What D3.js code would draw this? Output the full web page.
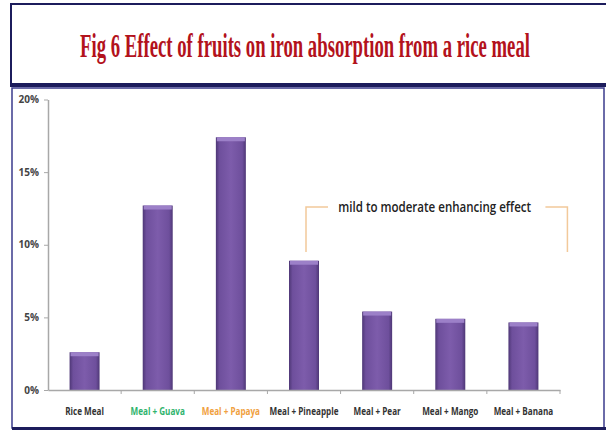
<!DOCTYPE html>
<html>
<head>
  <title>Fig 6</title>
  <script src="https://cdn.jsdelivr.net/npm/d3@7"></script>
  <style>
    body { margin: 0; background: #fff; }
    .tick text { font-family: "Open Sans", "Liberation Sans", sans-serif; }
  </style>
</head>
<body>
  <div id="chart-area"></div>
  <script>
    const categories = ["Rice Meal", "Meal + Guava", "Meal + Papaya", "Meal + Pineapple",
                        "Meal + Pear", "Meal + Mango", "Meal + Banana"];
    const absorption = [2.6, 12.7, 17.4, 8.9, 5.4, 4.9, 4.65];
    const labelColors = ["#333", "#2fb36d", "#f0a040", "#333", "#333", "#333", "#333"];
    const yTicks = [0, 5, 10, 15, 20];
    const title = "Fig 6 Effect of fruits on iron absorption from a rice meal";
    const note = "mild to moderate enhancing effect";

    const width = 606;
    const height = 434;
    const margin = {left: 48, right: 46, top: 100, bottom: 44};

    const svg = d3.select("#chart-area")
        .append("svg")
            .attr("width", width)
            .attr("height", height);

    // squeeze a text horizontally so it spans w pixels, centred at cx
    function squeeze(sel, cx, cy, w) {
        const n = sel.node().getComputedTextLength();
        const k = w / n;
        sel.attr("x", 0).attr("y", 0)
            .attr("transform", `translate(${cx},${cy}) scale(${k},1)`);
    }

    const defs = svg.append("defs");
    const grad = defs.append("linearGradient")
        .attr("id", "barGrad")
        .attr("x1", "0%").attr("x2", "100%");
    grad.append("stop").attr("offset", "0%").attr("stop-color", "#4e3776");
    grad.append("stop").attr("offset", "12%").attr("stop-color", "#6e4f9c");
    grad.append("stop").attr("offset", "50%").attr("stop-color", "#7d5cab");
    grad.append("stop").attr("offset", "88%").attr("stop-color", "#6e4f9c");
    grad.append("stop").attr("offset", "100%").attr("stop-color", "#4e3776");

    // title box
    svg.append("rect")
        .attr("x", 11).attr("y", 4)
        .attr("width", 600).attr("height", 81)
        .attr("fill", "#fff")
        .attr("stroke", "#1c1c5c")
        .attr("stroke-width", 2);
    svg.append("line")
        .attr("x1", 10).attr("x2", 606)
        .attr("y1", 85).attr("y2", 85)
        .attr("stroke", "#1c1c5c")
        .attr("stroke-width", 4);

    const titleText = svg.append("text")
        .attr("text-anchor", "middle")
        .attr("font-family", "Liberation Serif, Times New Roman, serif")
        .attr("font-weight", "bold")
        .attr("font-size", 34)
        .attr("fill", "#b3121c")
        .text(title);
    squeeze(titleText, 305, 57, 450);

    // chart box
    svg.append("rect")
        .attr("x", 12).attr("y", 88)
        .attr("width", 592).attr("height", 340)
        .attr("fill", "#fff")
        .attr("stroke", "#3b3b8c")
        .attr("stroke-width", 1.5);
    svg.append("line")
        .attr("x1", 12).attr("x2", 606)
        .attr("y1", 428.5).attr("y2", 428.5)
        .attr("stroke", "#1c1c5c")
        .attr("stroke-width", 3);

    const x = d3.scaleBand()
        .domain(categories)
        .range([margin.left, width - margin.right])
        .paddingInner(0.59)
        .paddingOuter(0.295);

    const y = d3.scaleLinear()
        .domain([0, 20])
        .range([height - margin.bottom, margin.top - 0.5]);

    const yAxis = svg.append("g")
        .attr("transform", `translate(${margin.left},0)`)
        .call(d3.axisLeft(y).tickValues(yTicks).tickFormat(d => d + "%").tickSize(4).tickSizeOuter(0));
    yAxis.select(".domain").attr("stroke", "#a8a8a8").attr("stroke-width", 1.5);
    yAxis.selectAll(".tick line").attr("stroke", "#a8a8a8");
    yAxis.selectAll(".tick text")
        .attr("fill", "#444").attr("font-size", 10).attr("font-weight", "bold").attr("dx", "-2");

    const bars = svg.append("g");
    bars.selectAll("rect.bar")
        .data(absorption)
        .enter().append("rect")
            .attr("class", "bar")
            .attr("x", (d, i) => x(categories[i]))
            .attr("y", d => y(d))
            .attr("width", x.bandwidth())
            .attr("height", d => y(0) - y(d))
            .attr("fill", "url(#barGrad)");
    // bevel on top
    bars.selectAll("rect.cap")
        .data(absorption)
        .enter().append("rect")
            .attr("class", "cap")
            .attr("x", (d, i) => x(categories[i]) + 1)
            .attr("y", d => y(d))
            .attr("width", x.bandwidth() - 2)
            .attr("height", 4)
            .attr("fill", "#9c80c8");

    const xAxis = svg.append("g")
        .attr("transform", `translate(0,${y(0)})`)
        .call(d3.axisBottom(x).tickSize(0).tickSizeOuter(0).tickPadding(17));
    xAxis.select(".domain").attr("stroke", "#a8a8a8").attr("stroke-width", 1.5);
    xAxis.selectAll(".tick text")
        .attr("font-size", 11).attr("font-weight", "bold")
        .attr("fill", (d, i) => labelColors[i])
        .attr("transform", "scale(0.74,1)");
    // category separators
    const step = x.step();
    xAxis.selectAll("line.sep")
        .data(categories)
        .enter().append("line")
            .attr("class", "sep")
            .attr("x1", (d, i) => margin.left + step * (i + 1))
            .attr("x2", (d, i) => margin.left + step * (i + 1))
            .attr("y1", 0).attr("y2", 4)
            .attr("stroke", "#a8a8a8");

    // bracket annotation over Pineapple..Banana
    const bx0 = x("Meal + Pineapple") + x.bandwidth() / 2 + 2;
    const bx1 = x("Meal + Banana") + x.bandwidth() + 29;
    const by0 = y(12.6);
    const by1 = y(9.5);
    const bracket = svg.append("g")
        .attr("fill", "none")
        .attr("stroke", "#f2c99a")
        .attr("stroke-width", 1.5);
    bracket.append("path").attr("d", `M${bx0},${by1}V${by0}H${bx0 + 22}`);
    bracket.append("path").attr("d", `M${bx1 - 22},${by0}H${bx1}V${by1}`);

    const noteText = svg.append("text")
        .attr("text-anchor", "middle")
        .attr("font-family", "Open Sans, Liberation Sans, sans-serif")
        .attr("font-size", 15)
        .attr("font-weight", 600)
        .attr("fill", "#222")
        .text(note);
    squeeze(noteText, (bx0 + bx1) / 2 - 2, by0 + 5, 193);
  </script>
</body>
</html>
